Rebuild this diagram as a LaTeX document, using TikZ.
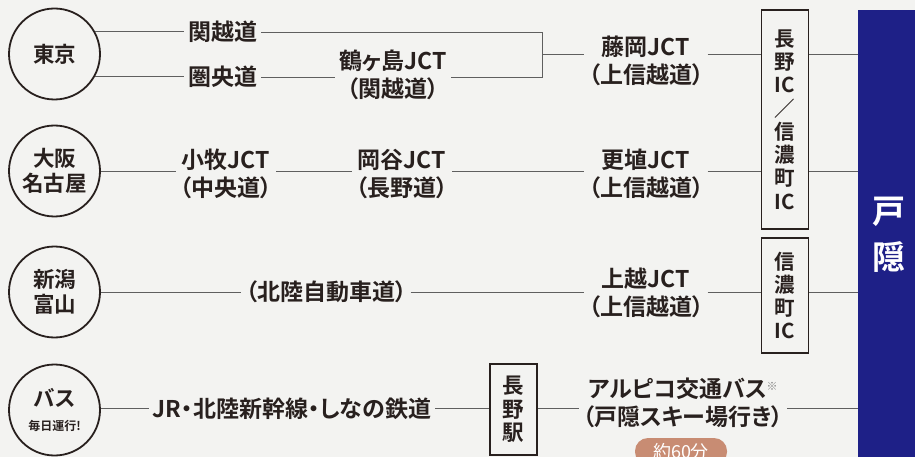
\documentclass[tikz,border=0pt]{standalone}
\usepackage{fontspec}
\newfontfamily\jp{Noto Sans CJK JP}[BoldFont={Noto Sans CJK JP Bold}]
\newfontfamily\jpp{Noto Sans CJK JP}[BoldFont={Noto Sans CJK JP Bold}, RawFeature=+palt]
\definecolor{paper}{RGB}{243,243,241}
\definecolor{ink}{RGB}{40,32,30}
\definecolor{linegray}{RGB}{95,95,95}
\definecolor{navy}{RGB}{30,32,135}
\definecolor{badgecol}{RGB}{200,140,115}

\begin{document}
\begin{tikzpicture}[x=1pt, y=-1pt,
    city/.style={circle, draw=ink, line width=1.8pt, minimum size=91pt,
        inner sep=0pt, align=center, text=ink,
        font=\jp\bfseries\fontsize{21.5}{24.5}\selectfont},
    road/.style={align=center, inner xsep=4pt, inner ysep=0pt, text=ink,
        font=\jpp\bfseries\fontsize{23}{28.5}\selectfont},
    icbox/.style={draw=ink, line width=1.2pt, minimum width=47pt,
        inner sep=0pt, align=center, text=ink,
        font=\jp\bfseries\fontsize{20.5}{23.3}\selectfont},
    badge/.style={fill=badgecol, rounded corners=13pt, minimum width=92pt,
        minimum height=27pt, inner sep=0pt, text=white,
        font=\jp\fontsize{18}{18}\selectfont},
    link/.style={draw=linegray, line width=0.9pt}]

    % 背景
    \clip (0,0) rectangle (915,457);
    \fill[paper] (0,0) rectangle (915,457);

    % 右侧目的地
    \node[fill=navy, minimum width=62pt, minimum height=450pt, inner sep=0pt,
          align=center, text=white, font=\jp\bfseries\fontsize{33}{46}\selectfont]
          (panel) at (889,235) {戸\\隠};

    % 各行连线的高度
    \coordinate (r1a) at (0,32);
    \coordinate (r1b) at (0,77);
    \coordinate (r1) at (0,54);
    \coordinate (r2) at (0,171);
    \coordinate (r3) at (0,292);
    \coordinate (r4) at (0,408);
    \coordinate (j1) at (542,54);

    % 出发地
    \node[city] (tokyo) at (54.5,54) {東京};
    \node[city] (osaka) at (54.5,171) {大阪\\名古屋};
    \node[city] (niigata) at (54.5,292) {新潟\\富山};
    \node[city] (bus) at (54.5,410)
         {バス\\[-1pt]{\fontsize{12}{14}\selectfont 毎日運行!}};

    % 第一行: 東京
    \node[road] (kanetsu) at (222.5,32) {関越道};
    \node[road] (kenou) at (222.5,77) {圏央道};
    \node[road] (tsuru) at (393,75) {鶴ヶ島JCT\\（関越道）};
    \node[road] (fujioka) at (646,61) {藤岡JCT\\（上信越道）};
    \node[icbox, minimum height=219pt] (nagano) at (785,119.5)
         {長\\野\\IC\\／\\信\\濃\\町\\IC};

    \draw[link] (tokyo.29) -- (kanetsu.west |- tokyo.29);
    \draw[link] (tokyo.-29) -- (kenou.west |- tokyo.-29);
    \draw[link] (kanetsu.east |- r1a) -- (j1 |- r1a) -- (j1 |- r1b)
                -- (tsuru.east |- r1b);
    \draw[link] (kenou.east |- r1b) -- (tsuru.west |- r1b);
    \draw[link] (j1) -- (fujioka.west |- r1);
    \draw[link] (fujioka.east |- r1) -- (nagano.west |- r1);
    \draw[link] (nagano.east |- r1) -- (panel.west |- r1);

    % 第二行: 大阪・名古屋
    \node[road] (komaki) at (226,174) {小牧JCT\\（中央道）};
    \node[road] (okaya) at (402,174) {岡谷JCT\\（長野道）};
    \node[road] (koshoku) at (646,174) {更埴JCT\\（上信越道）};

    \draw[link] (osaka.east |- r2) -- (komaki.west |- r2);
    \draw[link] (komaki.east |- r2) -- (okaya.west |- r2);
    \draw[link] (okaya.east |- r2) -- (koshoku.west |- r2);
    \draw[link] (koshoku.east |- r2) -- (nagano.west |- r2);
    \draw[link] (nagano.east |- r2) -- (panel.west |- r2);

    % 第三行: 新潟・富山
    \node[road] (hokuriku) at (326,292) {（北陸自動車道）};
    \node[road] (joetsu) at (646,293) {上越JCT\\（上信越道）};
    \node[icbox, minimum height=115pt] (shinano) at (785,295.5)
         {信\\濃\\町\\IC};

    \draw[link] (niigata.east |- r3) -- (hokuriku.west |- r3);
    \draw[link] (hokuriku.east |- r3) -- (joetsu.west |- r3);
    \draw[link] (joetsu.east |- r3) -- (shinano.west |- r3);
    \draw[link] (shinano.east |- r3) -- (panel.west |- r3);

    % 第四行: バス
    \node[road] (jr) at (292,409) {JR・北陸新幹線・しなの鉄道};
    \node[icbox, minimum height=91pt, font=\jp\bfseries\fontsize{21.5}{23.5}\selectfont]
         (station) at (513.5,409.5) {長\\野\\駅};
    \node[road] (alpico) at (683,403)
         {アルピコ交通バス\raisebox{7pt}{\textcolor{gray}{\fontsize{11}{11}\selectfont ※}}\\（戸隠スキー場行き）};
    \node[badge] (time) at (681,451.5) {約60分};

    \draw[link] (bus.east |- r4) -- (jr.west |- r4);
    \draw[link] (jr.east |- r4) -- (station.west |- r4);
    \draw[link] (station.east |- r4) -- (alpico.west |- r4);
    \draw[link] (alpico.east |- r4) -- (panel.west |- r4);
\end{tikzpicture}
\end{document}
